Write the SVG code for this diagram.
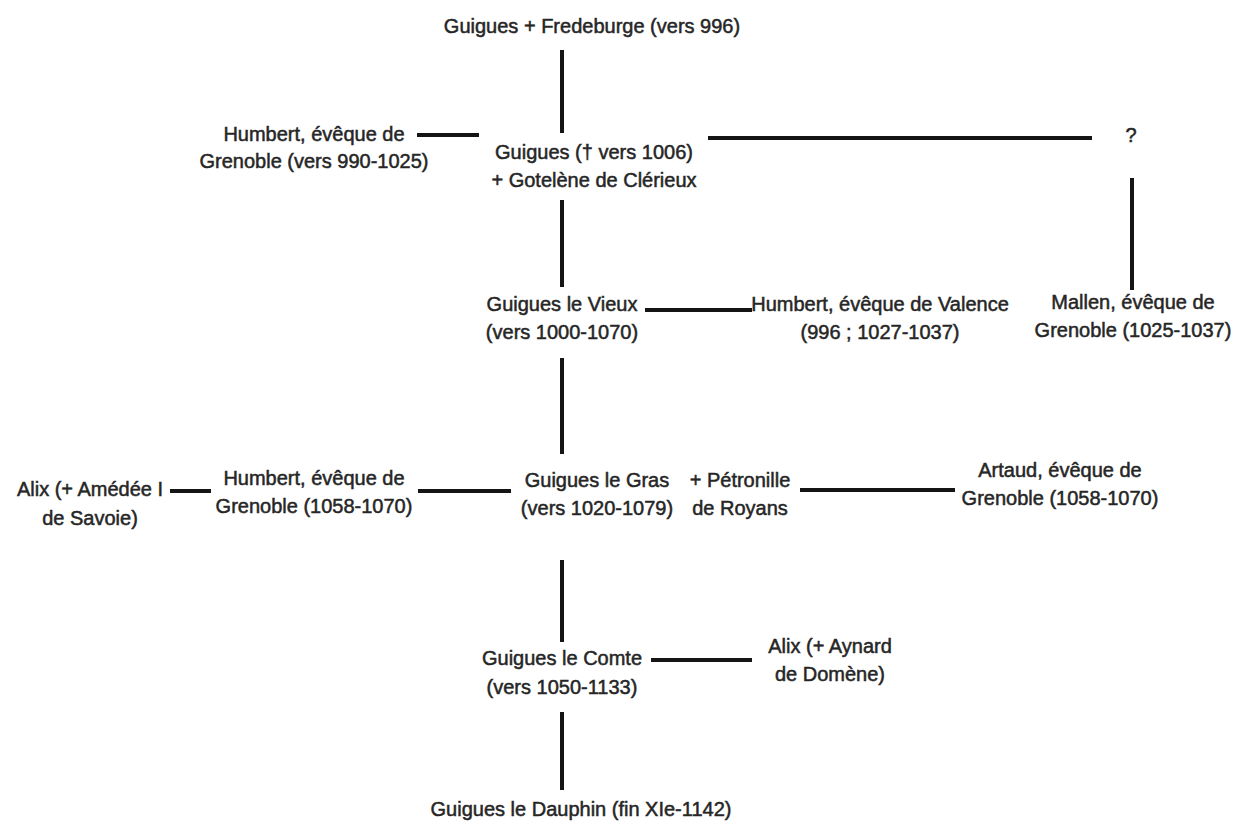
<svg xmlns="http://www.w3.org/2000/svg" width="1237" height="823" viewBox="0 0 1237 823">
<style>
text{font-family:"Liberation Sans",Arial,sans-serif;font-size:20px;fill:#262626;stroke:#262626;stroke-width:0.5;text-anchor:middle}
.c line{stroke:#151515;stroke-width:4;stroke-linecap:butt}
</style>
<rect width="1237" height="823" fill="#ffffff"/>
<g class="c" id="connectors">
<line x1="562" y1="50" x2="562" y2="133"/>
<line x1="417" y1="135" x2="479" y2="135"/>
<line x1="708" y1="138" x2="1092" y2="138"/>
<line x1="1132" y1="178" x2="1132" y2="290"/>
<line x1="562" y1="200" x2="562" y2="287"/>
<line x1="645" y1="310" x2="752" y2="310"/>
<line x1="562" y1="358" x2="562" y2="454"/>
<line x1="170" y1="491" x2="211" y2="491"/>
<line x1="418" y1="491" x2="511" y2="491"/>
<line x1="800" y1="490" x2="955" y2="490"/>
<line x1="562" y1="560" x2="562" y2="642"/>
<line x1="651" y1="660" x2="752" y2="660"/>
<line x1="562" y1="712" x2="562" y2="790"/>
</g>
<g id="n-fredeburge"><text x="592" y="33">Guigues + Fredeburge (vers 996)</text></g>
<g id="n-humbert1"><text x="314" y="141">Humbert, évêque de</text><text x="314" y="168">Grenoble (vers 990-1025)</text></g>
<g id="n-guigues1006"><text x="594" y="159">Guigues († vers 1006)</text><text x="594" y="187">+ Gotelène de Clérieux</text></g>
<g id="n-unknown"><text x="1131" y="142">?</text></g>
<g id="n-mallen"><text x="1133" y="309">Mallen, évêque de</text><text x="1133" y="337">Grenoble (1025-1037)</text></g>
<g id="n-vieux"><text x="562" y="311">Guigues le Vieux</text><text x="562" y="339">(vers 1000-1070)</text></g>
<g id="n-humbert-valence"><text x="880" y="311">Humbert, évêque de Valence</text><text x="880" y="339">(996 ; 1027-1037)</text></g>
<g id="n-alix1"><text x="90" y="496">Alix (+ Amédée I</text><text x="90" y="525">de Savoie)</text></g>
<g id="n-humbert2"><text x="314" y="485">Humbert, évêque de</text><text x="314" y="513">Grenoble (1058-1070)</text></g>
<g id="n-gras"><text x="597" y="487">Guigues le Gras</text><text x="597" y="515">(vers 1020-1079)</text></g>
<g id="n-petronille"><text x="740" y="487">+ Pétronille</text><text x="740" y="515">de Royans</text></g>
<g id="n-artaud"><text x="1060" y="477">Artaud, évêque de</text><text x="1060" y="505">Grenoble (1058-1070)</text></g>
<g id="n-comte"><text x="562" y="665">Guigues le Comte</text><text x="562" y="694">(vers 1050-1133)</text></g>
<g id="n-alix2"><text x="830" y="653">Alix (+ Aynard</text><text x="830" y="681">de Domène)</text></g>
<g id="n-dauphin"><text x="581" y="816">Guigues le Dauphin (fin XIe-1142)</text></g>
</svg>
